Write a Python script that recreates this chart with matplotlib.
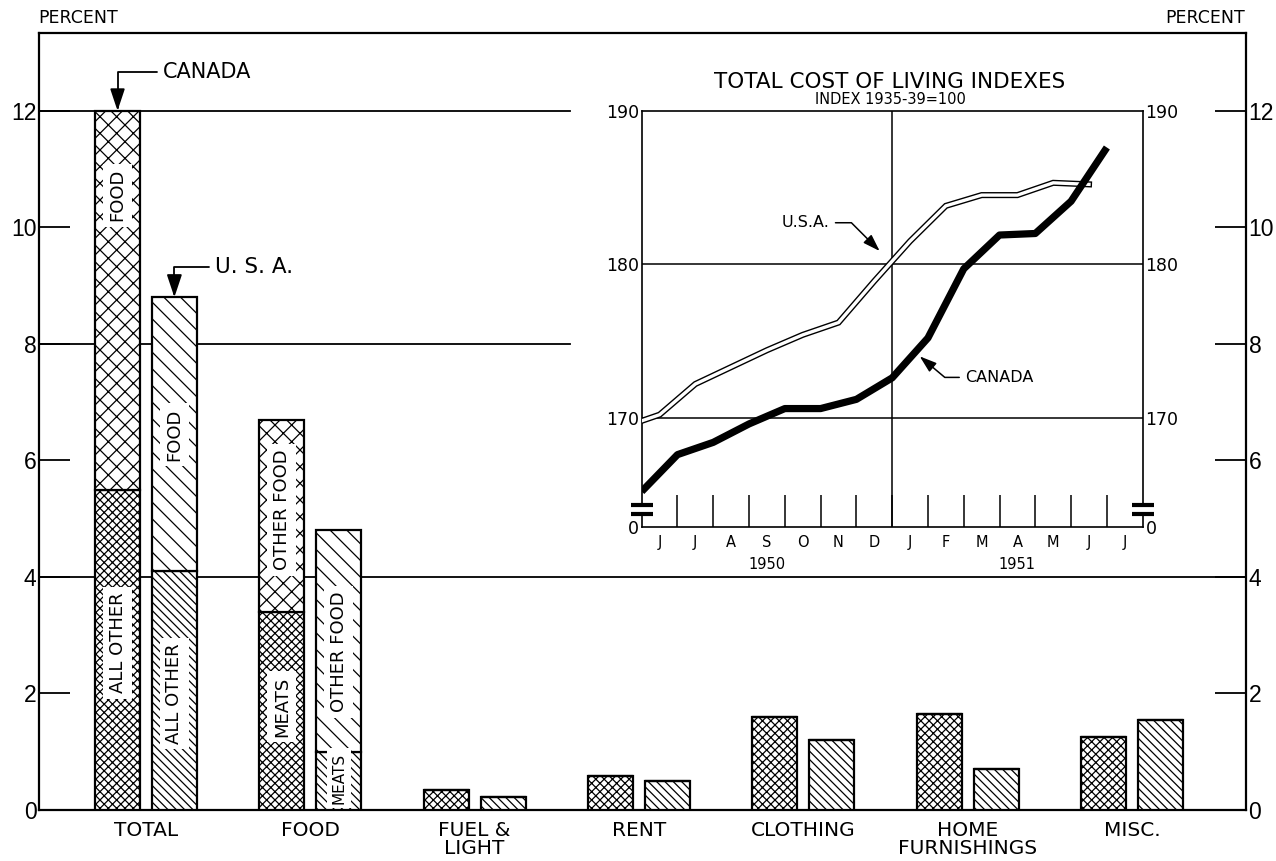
import matplotlib
matplotlib.use('Agg')
import matplotlib.pyplot as plt
import numpy as np
from matplotlib.lines import Line2D

# ---------------- data ----------------
categories = ['TOTAL', 'FOOD', 'FUEL &\nLIGHT', 'RENT', 'CLOTHING', 'HOME\nFURNISHINGS', 'MISC.']
# Canada: lower segment (all other / meats / whole bar) and upper segment (food / other food)
canada_lower = [5.5, 3.4, 0.35, 0.58, 1.6, 1.65, 1.25]
canada_upper = [6.5, 3.3, 0, 0, 0, 0, 0]
usa_lower = [4.1, 1.0, 0.22, 0.5, 1.2, 0.7, 1.55]
usa_upper = [4.7, 3.8, 0, 0, 0, 0, 0]

# in-bar labels: (group, country, text, y)
seg_labels = [
    (0, 'CAN', 'FOOD', 10.55),
    (0, 'CAN', 'ALL OTHER', 2.87),
    (0, 'USA', 'FOOD', 6.44),
    (0, 'USA', 'ALL OTHER', 2.0),
    (1, 'CAN', 'OTHER FOOD', 5.15),
    (1, 'CAN', 'MEATS', 1.77),
    (1, 'USA', 'OTHER FOOD', 2.71),
    (1, 'USA', 'MEATS', 0.55),
]

y_ticks = [0, 2, 4, 6, 8, 10, 12]

# inset: cost of living indexes (1935-39 = 100)
months_1950 = ['J', 'J', 'A', 'S', 'O', 'N', 'D']
months_1951 = ['J', 'F', 'M', 'A', 'M', 'J', 'J']
canada_index = [165.2, 167.6, 168.4, 169.6, 170.6, 170.6, 171.2, 172.6,
                175.2, 179.7, 181.9, 182.0, 184.1, 187.6]
usa_index = [169.8, 170.2, 172.2, 173.3, 174.4, 175.4, 176.2, 178.9,
             181.5, 183.8, 184.5, 184.5, 185.3, 185.2]
inset_ticks = [170, 180, 190]

# ---------------- figure ----------------
plt.rcParams['font.family'] = ['DejaVu Sans']
plt.rcParams['hatch.linewidth'] = 0.9

fig = plt.figure(figsize=(12.76, 8.61), dpi=100)
fig.patch.set_facecolor('white')
ax = fig.add_axes([0.0308, 0.0592, 0.9455, 0.9021])

ymax = 13.33
ax.set_xlim(-0.649, 6.692)
ax.set_ylim(0, ymax)

off = 0.173
bw = 0.274
x = np.arange(len(categories))
cx = x - off
ux = x + off

ax.bar(cx, canada_lower, bw, color='white', edgecolor='black', hatch='xxxx', lw=1.6, zorder=3)
ax.bar(cx, canada_upper, bw, bottom=canada_lower, color='white', edgecolor='black',
       hatch='xx', lw=1.6, zorder=3)
ax.bar(ux, usa_lower, bw, color='white', edgecolor='black', hatch='\\\\\\\\', lw=1.6, zorder=3)
ax.bar(ux, usa_upper, bw, bottom=usa_lower, color='white', edgecolor='black',
       hatch='\\\\', lw=1.6, zorder=3)

for g, c, txt, yv in seg_labels:
    xv = x[g] - off if c == 'CAN' else x[g] + off
    fs = 11 if (c == 'USA' and txt == 'MEATS') else 13
    ax.text(xv, yv, txt, rotation=90, ha='center', va='center', fontsize=fs, zorder=5,
            bbox=dict(boxstyle='square,pad=0.3', fc='white', ec='none'))

# gridlines
ax.axhline(12, xmax=0.44, color='black', lw=1.3, zorder=1)
ax.axhline(8, xmax=0.44, color='black', lw=1.3, zorder=1)
ax.axhline(4, color='black', lw=1.3, zorder=1)

ax.set_yticks(y_ticks)
ax.set_yticklabels([str(v) for v in y_ticks])
ax.tick_params(axis='y', direction='in', length=22, width=1.3, left=True, right=True,
               labelleft=True, labelright=True, labelsize=16.5, pad=2)
for lab in ax.get_yticklabels(which='both'):
    lab.set_family(['Liberation Sans', 'DejaVu Sans'])
ax.set_xticks(x)
ax.set_xticklabels(categories, fontsize=14.5, linespacing=0.95)
ax.tick_params(axis='x', length=0, pad=8)
for s in ax.spines.values():
    s.set_linewidth(1.6)

arrow_kw = dict(arrowstyle='-|>,head_length=0.9,head_width=0.3', color='black', lw=1.3,
                shrinkA=2, shrinkB=0)
ax.annotate('CANADA', xy=(cx[0], canada_lower[0] + canada_upper[0]), xytext=(0.10, 12.67),
            ha='left', va='center', fontsize=15,
            arrowprops=dict(connectionstyle='angle,angleA=0,angleB=90,rad=0', **arrow_kw))
ax.annotate('U. S. A.', xy=(ux[0], usa_lower[0] + usa_upper[0]), xytext=(0.42, 9.32),
            ha='left', va='center', fontsize=15.5,
            arrowprops=dict(connectionstyle='angle,angleA=0,angleB=90,rad=0', **arrow_kw))

fig.text(38 / 1276, 1 - 18 / 861, 'PERCENT', ha='left', va='center', fontsize=12.5)
fig.text(1245 / 1276, 1 - 18 / 861, 'PERCENT', ha='right', va='center', fontsize=12.5)

# ---------------- inset ----------------
ins = fig.add_axes([0.5029, 0.3876, 0.3926, 0.4839])
ins.set_facecolor('white')
ybot = 162.87
ins.set_xlim(0, 14)
ins.set_ylim(ybot, 190)

kx_can = np.arange(len(canada_index))
kx_usa = np.concatenate([[0], np.arange(len(usa_index) - 1) + 0.5])

ins.axhline(170, color='black', lw=1.1, zorder=1)
ins.axhline(180, color='black', lw=1.1, zorder=1)
ins.axvline(7, color='black', lw=1.1, zorder=1)

ins.plot(kx_usa, usa_index, color='black', lw=4.4, solid_joinstyle='miter', zorder=3)
ins.plot(kx_usa, usa_index, color='white', lw=2.4, solid_joinstyle='miter', zorder=3)
ins.plot(kx_can, canada_index, color='black', lw=5.2, solid_capstyle='butt', zorder=4)

ins.set_xticks(np.arange(1, 14))
ins.set_xticklabels([])
ins.tick_params(axis='x', which='major', direction='in', length=23, width=1.1)
ins.set_xticks(np.arange(14) + 0.5, minor=True)
ins.set_xticklabels(months_1950 + months_1951, minor=True, fontsize=10.5)
ins.tick_params(axis='x', which='minor', length=0, pad=5.5)

ins.set_yticks([ybot] + inset_ticks)
ins.set_yticklabels(['0'] + [str(v) for v in inset_ticks])
ins.tick_params(axis='y', length=0, left=True, right=True, labelleft=True, labelright=True,
                labelsize=12.5, pad=2)
for s in ins.spines.values():
    s.set_linewidth(1.2)

ins.annotate('1950', xy=(3.5, 0), xycoords=('data', 'axes fraction'), xytext=(0, -26.5),
             textcoords='offset points', ha='center', va='center', fontsize=10.5)
ins.annotate('1951', xy=(10.5, 0), xycoords=('data', 'axes fraction'), xytext=(0, -26.5),
             textcoords='offset points', ha='center', va='center', fontsize=10.5)

ins.text(0.4956, 1.069, 'TOTAL COST OF LIVING INDEXES', transform=ins.transAxes,
         ha='center', va='center', fontsize=15.5)
ins.text(0.4956, 1.026, 'INDEX 1935-39=100', transform=ins.transAxes,
         ha='center', va='center', fontsize=10.5)

# axis break marks
for xa in (0.0, 1.0):
    ins.add_line(Line2D([xa, xa], [0.036, 0.049], transform=ins.transAxes, color='white',
                        lw=3, clip_on=False, zorder=6))
    for yb in (0.0535, 0.0307):
        ins.add_line(Line2D([xa - 0.022, xa + 0.022], [yb, yb], transform=ins.transAxes,
                            color='black', lw=3.0, solid_capstyle='butt', clip_on=False, zorder=7))

ak = dict(arrowstyle='-|>,head_length=0.9,head_width=0.3', color='black', lw=1.1,
          shrinkA=2, shrinkB=0)
ins.annotate('U.S.A.', xy=(6.65, 180.86), xytext=(5.26, 182.7), ha='right', va='center',
             fontsize=11.5, arrowprops=dict(connectionstyle='angle,angleA=0,angleB=-45,rad=0', **ak))
ins.annotate('CANADA', xy=(7.77, 174.0), xytext=(9.03, 172.63), ha='left', va='center',
             fontsize=11.5, arrowprops=dict(connectionstyle='angle,angleA=0,angleB=-40,rad=0', **ak))

fig.savefig('out.png', dpi=100)
